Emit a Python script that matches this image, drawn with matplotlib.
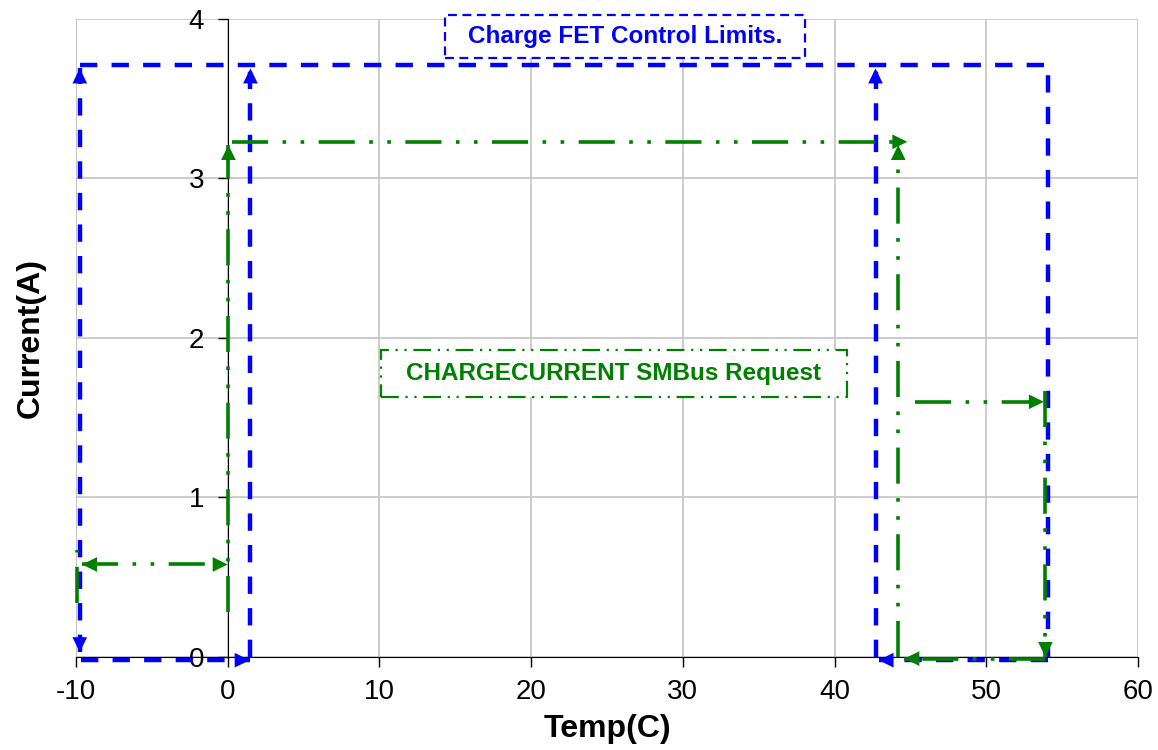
import matplotlib
matplotlib.use('Agg')
import matplotlib.pyplot as plt
from matplotlib.patches import Rectangle

plt.rcParams['font.family'] = ['Liberation Sans', 'DejaVu Sans']
plt.rcParams['axes.unicode_minus'] = False

# x ticks / y ticks
x_ticks = [-10, 0, 10, 20, 30, 40, 50, 60]
y_ticks = [0, 1, 2, 3, 4]

# Charge FET control limits (blue), each path: x, y, arrow ends
fet_cold_x = [-9.75, -9.75]
fet_cold_y = [0.03, 3.69]
fet_low_x = [-9.7, 1.45]
fet_low_y = [-0.02, -0.02]
fet_recover_low_x = [1.5, 1.5]
fet_recover_low_y = [0.0, 3.69]
fet_top_x = [-9.75, 54.05, 54.05]
fet_top_y = [3.71, 3.71, 0.0]
fet_high_x = [54.05, 42.9]
fet_high_y = [-0.02, -0.02]
fet_recover_high_x = [42.7, 42.7]
fet_recover_high_y = [0.0, 3.69]

# CHARGECURRENT SMBus request (green)
req_rise_x = [0.05, 0.05]
req_rise_y = [0.28, 3.21]
req_top_x = [0.3, 44.8]
req_top_y = [3.23, 3.23]
req_hot_x = [44.2, 44.2]
req_hot_y = [0.0, 3.21]
req_mid_x = [45.3, 53.8]
req_mid_y = [1.6, 1.6]
req_drop_x = [53.9, 53.9]
req_drop_y = [1.67, 0.0]
req_bottom_x = [53.9, 44.6]
req_bottom_y = [-0.01, -0.01]
req_cold_x = [-9.6, 0.0]
req_cold_y = [0.58, 0.58]
req_edge_x = [-9.9, -9.9]
req_edge_y = [0.34, 0.67]

BLUE = '#0000ff'
GREEN = '#008000'
blue_ls = (0, (3.9, 3.2))
green_ls = (0, (10, 4, 1, 4, 1, 4))


def head(ax, x0, y0, x1, y1, color, size):
    # small solid arrow head at (x1, y1) pointing away from (x0, y0)
    dx, dy = x1 - x0, y1 - y0
    ax.annotate('', xy=(x1, y1), xytext=(x1 - dx * 0.01, y1 - dy * 0.01),
                arrowprops=dict(arrowstyle='-|>,head_length=0.45,head_width=0.22',
                                color=color, lw=0,
                                mutation_scale=size, shrinkA=0, shrinkB=0),
                annotation_clip=False, zorder=4)


def path(ax, xs, ys, color, lw, ls, arrows, size):
    ax.plot(xs, ys, color=color, lw=lw, ls=ls, clip_on=False, zorder=3,
            solid_capstyle='butt', dash_capstyle='butt')
    if arrows in ('end', 'both'):
        head(ax, xs[-2], ys[-2], xs[-1], ys[-1], color, size)
    if arrows in ('start', 'both'):
        head(ax, xs[1], ys[1], xs[0], ys[0], color, size)


fig = plt.figure(figsize=(11.58, 7.5), dpi=100)
ax = fig.add_axes([0.0656, 0.124, 0.9171, 0.8507])
ax.set_xlim(-10, 60)
ax.set_ylim(0, 4)
ax.set_xticks(x_ticks)
ax.set_yticks(y_ticks)
ax.grid(True, color='#c4c4c4', lw=1.2)
ax.set_axisbelow(True)

for s in ['top', 'right']:
    ax.spines[s].set_visible(False)
ax.spines['left'].set_position(('data', 0))
ax.spines['left'].set_color('black')
ax.spines['bottom'].set_color('black')
ax.spines['left'].set_zorder(2)
ax.tick_params(axis='both', labelsize=20, direction='out', length=7, width=1)
ax.tick_params(axis='y', pad=10)
ax.tick_params(axis='x', pad=9)
# gray left edge like the plot area border
ax.axvline(-10, color='#c4c4c4', lw=1.2, zorder=0)

# blue limits
path(ax, fet_cold_x, fet_cold_y, BLUE, 3.2, blue_ls, 'both', 24)
path(ax, fet_low_x, fet_low_y, BLUE, 3.2, blue_ls, 'end', 24)
path(ax, fet_recover_low_x, fet_recover_low_y, BLUE, 3.2, blue_ls, 'end', 24)
path(ax, fet_top_x, fet_top_y, BLUE, 3.2, blue_ls, None, 24)
path(ax, fet_high_x, fet_high_y, BLUE, 3.2, blue_ls, 'end', 24)
path(ax, fet_recover_high_x, fet_recover_high_y, BLUE, 3.2, blue_ls, 'end', 24)

# green request
path(ax, req_rise_x, req_rise_y, GREEN, 2.6, green_ls, 'end', 24)
path(ax, req_top_x, req_top_y, GREEN, 2.6, green_ls, 'end', 24)
path(ax, req_hot_x, req_hot_y, GREEN, 2.6, green_ls, 'end', 24)
path(ax, req_mid_x, req_mid_y, GREEN, 2.6, green_ls, 'end', 24)
path(ax, req_drop_x, req_drop_y, GREEN, 2.6, green_ls, 'end', 24)
path(ax, req_bottom_x, req_bottom_y, GREEN, 2.6, green_ls, 'end', 24)
path(ax, req_cold_x, req_cold_y, GREEN, 2.6, green_ls, 'both', 24)
path(ax, req_edge_x, req_edge_y, GREEN, 2.6, green_ls, None, 24)

# label boxes
ax.add_patch(Rectangle((0.3475, 0.939), 0.339, 0.0674, transform=ax.transAxes,
                       fc='white', ec=BLUE, lw=1.6, ls=(0, (4, 2.5)),
                       clip_on=False, zorder=5))
ax.text(0.517, 0.9726, 'Charge FET Control Limits.', transform=ax.transAxes,
        ha='center', va='center', color=BLUE, fontsize=17.5, fontweight='bold',
        zorder=6)
ax.add_patch(Rectangle((0.2872, 0.4075), 0.4388, 0.0737, transform=ax.transAxes,
                       fc='white', ec=GREEN, lw=1.6,
                       ls=(0, (8, 3, 1, 3, 1, 3)), clip_on=False, zorder=5))
ax.text(0.5066, 0.445, 'CHARGECURRENT SMBus Request', transform=ax.transAxes,
        ha='center', va='center', color=GREEN, fontsize=17.5, fontweight='bold',
        zorder=6)

ax.set_xlabel('Temp(C)', fontsize=23, fontweight='bold', labelpad=6)
ax.set_ylabel('Current(A)', fontsize=23, fontweight='bold')
ax.yaxis.set_label_coords(-0.028, 0.5)

fig.savefig('out.png', dpi=100)
